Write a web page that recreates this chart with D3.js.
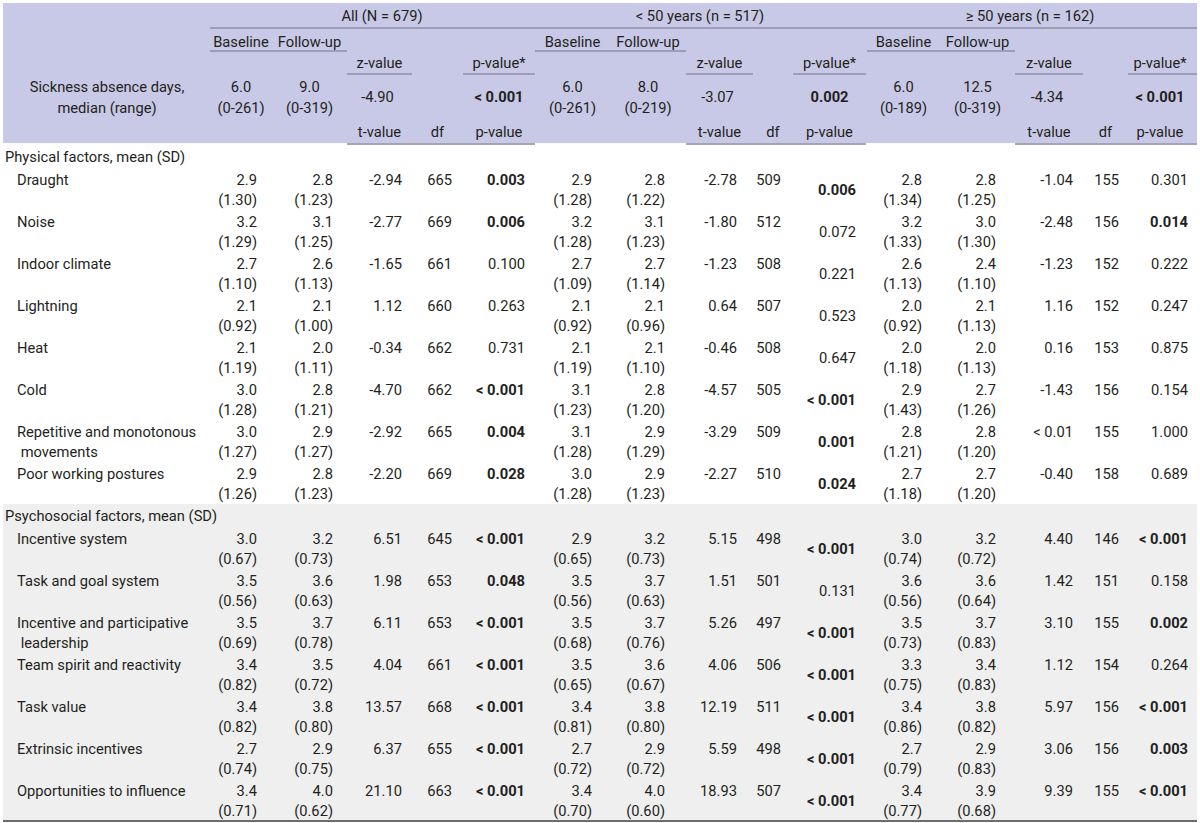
<!DOCTYPE html>
<html>
<head>
<meta charset="utf-8">
<script src="https://cdn.jsdelivr.net/npm/d3@7/dist/d3.min.js"></script>
<style>
  body { margin: 0; background: #fff; }
  svg text { font-family: Roboto, "Noto Sans", sans-serif; font-size: 14.7px; fill: #231f20; }
</style>
</head>
<body>
<div id="table"></div>
<script>
// ---- data ----
const physicalItems = ['Draught', 'Noise', 'Indoor climate', 'Lightning', 'Heat', 'Cold',
    ['Repetitive and monotonous', ' movements'], 'Poor working postures'];
const psychosocialItems = ['Incentive system', 'Task and goal system',
    ['Incentive and participative', ' leadership'], 'Team spirit and reactivity', 'Task value',
    'Extrinsic incentives', 'Opportunities to influence'];
const sectionLabels = ['Physical factors, mean (SD)', 'Psychosocial factors, mean (SD)'];

const groupLabels = ['All (N = 679)', '< 50 years (n = 517)', '\u2265 50 years (n = 162)'];

// sickness absence days, median (range)
const sickBaseline = ['6.0', '6.0', '6.0'];
const sickBaselineRange = ['(0-261)', '(0-261)', '(0-189)'];
const sickFollowup = ['9.0', '8.0', '12.5'];
const sickFollowupRange = ['(0-319)', '(0-219)', '(0-319)'];
const sickZ = ['-4.90', '-3.07', '-4.34'];
const sickP = ['< 0.001', '0.002', '< 0.001'];

// All (physical items then psychosocial items)
const allBaseMean = [2.9, 3.2, 2.7, 2.1, 2.1, 3.0, 3.0, 2.9, 3.0, 3.5, 3.5, 3.4, 3.4, 2.7, 3.4];
const allBaseSD = [1.30, 1.29, 1.10, 0.92, 1.19, 1.28, 1.27, 1.26, 0.67, 0.56, 0.69, 0.82, 0.82, 0.74, 0.71];
const allFolMean = [2.8, 3.1, 2.6, 2.1, 2.0, 2.8, 2.9, 2.8, 3.2, 3.6, 3.7, 3.5, 3.8, 2.9, 4.0];
const allFolSD = [1.23, 1.25, 1.13, 1.00, 1.11, 1.21, 1.27, 1.23, 0.73, 0.63, 0.78, 0.72, 0.80, 0.75, 0.62];
const allT = ['-2.94', '-2.77', '-1.65', '1.12', '-0.34', '-4.70', '-2.92', '-2.20', '6.51', '1.98', '6.11', '4.04', '13.57', '6.37', '21.10'];
const allDf = [665, 669, 661, 660, 662, 662, 665, 669, 645, 653, 653, 661, 668, 655, 663];
const allP = ['0.003', '0.006', '0.100', '0.263', '0.731', '< 0.001', '0.004', '0.028', '< 0.001', '0.048', '< 0.001', '< 0.001', '< 0.001', '< 0.001', '< 0.001'];

// < 50 years
const youngBaseMean = [2.9, 3.2, 2.7, 2.1, 2.1, 3.1, 3.1, 3.0, 2.9, 3.5, 3.5, 3.5, 3.4, 2.7, 3.4];
const youngBaseSD = [1.28, 1.28, 1.09, 0.92, 1.19, 1.23, 1.28, 1.28, 0.65, 0.56, 0.68, 0.65, 0.81, 0.72, 0.70];
const youngFolMean = [2.8, 3.1, 2.7, 2.1, 2.1, 2.8, 2.9, 2.9, 3.2, 3.7, 3.7, 3.6, 3.8, 2.9, 4.0];
const youngFolSD = [1.22, 1.23, 1.14, 0.96, 1.10, 1.20, 1.29, 1.23, 0.73, 0.63, 0.76, 0.67, 0.80, 0.72, 0.60];
const youngT = ['-2.78', '-1.80', '-1.23', '0.64', '-0.46', '-4.57', '-3.29', '-2.27', '5.15', '1.51', '5.26', '4.06', '12.19', '5.59', '18.93'];
const youngDf = [509, 512, 508, 507, 508, 505, 509, 510, 498, 501, 497, 506, 511, 498, 507];
const youngP = ['0.006', '0.072', '0.221', '0.523', '0.647', '< 0.001', '0.001', '0.024', '< 0.001', '0.131', '< 0.001', '< 0.001', '< 0.001', '< 0.001', '< 0.001'];

// >= 50 years
const oldBaseMean = [2.8, 3.2, 2.6, 2.0, 2.0, 2.9, 2.8, 2.7, 3.0, 3.6, 3.5, 3.3, 3.4, 2.7, 3.4];
const oldBaseSD = [1.34, 1.33, 1.13, 0.92, 1.18, 1.43, 1.21, 1.18, 0.74, 0.56, 0.73, 0.75, 0.86, 0.79, 0.77];
const oldFolMean = [2.8, 3.0, 2.4, 2.1, 2.0, 2.7, 2.8, 2.7, 3.2, 3.6, 3.7, 3.4, 3.8, 2.9, 3.9];
const oldFolSD = [1.25, 1.30, 1.10, 1.13, 1.13, 1.26, 1.20, 1.20, 0.72, 0.64, 0.83, 0.83, 0.82, 0.83, 0.68];
const oldT = ['-1.04', '-2.48', '-1.23', '1.16', '0.16', '-1.43', '< 0.01', '-0.40', '4.40', '1.42', '3.10', '1.12', '5.97', '3.06', '9.39'];
const oldDf = [155, 156, 152, 152, 153, 156, 155, 158, 146, 151, 155, 154, 156, 156, 155];
const oldP = ['0.301', '0.014', '0.222', '0.247', '0.875', '0.154', '1.000', '0.689', '< 0.001', '0.158', '0.002', '0.264', '< 0.001', '0.003', '< 0.001'];

// ---- layout ----
const width = 1200, height = 823;
const headerBg = '#c8c9e6', headerLine = '#8e8fa8', shade = '#efefef';
const fmtMean = d3.format('.1f'), fmtSD = d3.format('.2f');
const isBold = p => p.startsWith('<') || +p < 0.05;

const groups = [
    { label: groupLabels[0], labelX: 382, pMiddle: false,
      edges: { base: [210, 272], fol: [272, 347], t: [347, 412], df: [412, 463], p: [463, 535] },
      right: [257, 333, 402, 452, 525],
      baseMean: allBaseMean, baseSD: allBaseSD, folMean: allFolMean, folSD: allFolSD, t: allT, df: allDf, p: allP },
    { label: groupLabels[1], labelX: 700, pMiddle: true,
      edges: { base: [535, 610], fol: [610, 686], t: [686, 753], df: [753, 793], p: [793, 866] },
      right: [592, 665, 737, 781, 856],
      baseMean: youngBaseMean, baseSD: youngBaseSD, folMean: youngFolMean, folSD: youngFolSD, t: youngT, df: youngDf, p: youngP },
    { label: groupLabels[2], labelX: 1030, pMiddle: false,
      edges: { base: [867, 940], fol: [940, 1015], t: [1015, 1083], df: [1083, 1128], p: [1128, 1192] },
      right: [922, 996, 1073, 1119, 1188],
      baseMean: oldBaseMean, baseSD: oldBaseSD, folMean: oldFolMean, folSD: oldFolSD, t: oldT, df: oldDf, p: oldP }
];
const colKeys = ['base', 'fol', 't', 'df', 'p'];
groups.forEach(g => {
    g.x = d3.scaleOrdinal().domain(colKeys).range(g.right);
    g.mid = k => (g.edges[k][0] + g.edges[k][1]) / 2;
});

// row scales for both sections
const pitch = 42, lineGap = 19.5;
const yPhys = d3.scaleBand().domain(d3.range(physicalItems.length))
    .range([169, 169 + pitch * physicalItems.length]);
const yPsych = d3.scaleBand().domain(d3.range(physicalItems.length, physicalItems.length + psychosocialItems.length))
    .range([528, 528 + pitch * psychosocialItems.length]);
const items = physicalItems.concat(psychosocialItems);
const rowY = i => (i < physicalItems.length ? yPhys(i) : yPsych(i)) + 11;

const svg = d3.select('#table').append('svg')
    .attr('width', width)
    .attr('height', height);

// backgrounds
svg.append('rect').attr('x', 3).attr('y', 3).attr('width', 1194).attr('height', 140).attr('fill', headerBg);
svg.append('rect').attr('x', 3).attr('y', 504).attr('width', 1194).attr('height', 316).attr('fill', shade);

function txt(x, y, s, anchor, bold) {
    return svg.append('text')
        .attr('x', x).attr('y', y).attr('dy', '0.35em')
        .attr('text-anchor', anchor || 'middle')
        .style('font-weight', bold ? 'bold' : null)
        .text(s);
}
function hline(x1, x2, y, color, w) {
    svg.append('line').attr('x1', x1).attr('x2', x2).attr('y1', y).attr('y2', y)
        .attr('stroke', color).attr('stroke-width', w);
}

// header
txt(107, 87, 'Sickness absence days,');
txt(107, 108, 'median (range)');
hline(210, 1197, 28, headerLine, 1.5);

groups.forEach((g, gi) => {
    txt(g.labelX, 16, g.label);
    txt(g.mid('base'), 42, 'Baseline');
    txt(g.mid('fol'), 42, 'Follow-up');
    hline(g.edges.base[0], g.edges.fol[1], 51, headerLine, 1.5);
    txt(g.mid('t'), 63, 'z-value');
    txt(g.mid('p'), 63, 'p-value*');
    hline(g.edges.t[0], g.edges.t[1], 74, headerLine, 1.5);
    hline(g.edges.p[0], g.edges.p[1] + (gi === 2 ? 5 : 0), 74, headerLine, 1.5);

    txt(g.mid('base'), 87, sickBaseline[gi]);
    txt(g.mid('base'), 108, sickBaselineRange[gi]);
    txt(g.mid('fol'), 87, sickFollowup[gi]);
    txt(g.mid('fol'), 108, sickFollowupRange[gi]);
    txt(g.mid('t') - 2, 97, sickZ[gi]);
    txt(g.mid('p'), 97, sickP[gi], 'middle', isBold(sickP[gi]));

    txt(g.mid('t'), 132, 't-value');
    txt(g.mid('df'), 132, 'df');
    txt(g.mid('p'), 132, 'p-value');
    hline(g.edges.t[0], g.edges.p[1] + (gi === 2 ? 5 : 0), 144, '#a4a4b4', 2);
});

// section labels
txt(5, 157, sectionLabels[0], 'start');
txt(5, 516, sectionLabels[1], 'start');

// body rows
items.forEach((label, i) => {
    const y = rowY(i);
    const lines = Array.isArray(label) ? label : [label];
    lines.forEach((l, li) => txt(17, y + li * lineGap, l, 'start').attr('xml:space', 'preserve'));

    groups.forEach(g => {
        txt(g.x('base'), y, fmtMean(g.baseMean[i]), 'end');
        txt(g.x('base'), y + lineGap, '(' + fmtSD(g.baseSD[i]) + ')', 'end');
        txt(g.x('fol'), y, fmtMean(g.folMean[i]), 'end');
        txt(g.x('fol'), y + lineGap, '(' + fmtSD(g.folSD[i]) + ')', 'end');
        txt(g.x('t'), y, g.t[i], 'end');
        txt(g.x('df'), y, g.df[i], 'end');
        txt(g.x('p'), g.pMiddle ? y + lineGap / 2 : y, g.p[i], 'end', isBold(g.p[i]));
    });
});

// bottom rule
hline(3, 1197, 821, '#6d6d6d', 2);
</script>
</body>
</html>
